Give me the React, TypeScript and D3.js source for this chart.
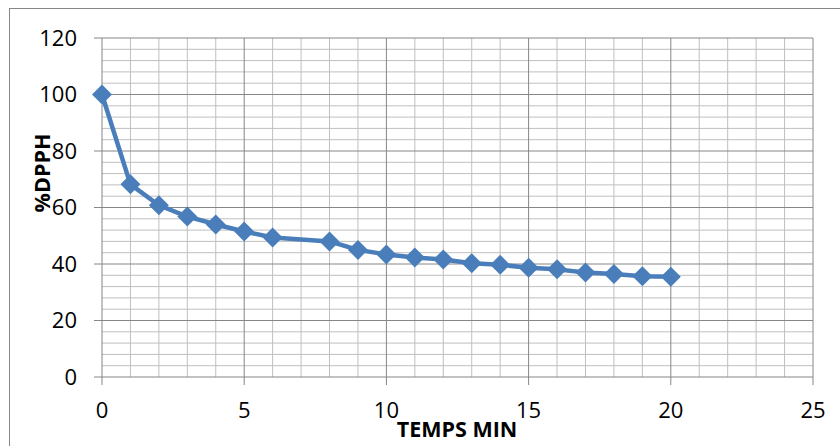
import React from 'react';
import * as d3 from 'd3';

// temps (min) and %DPPH
const times = [0, 1, 2, 3, 4, 5, 6, 8, 9, 10, 11, 12, 13, 14, 15, 16, 17, 18, 19, 20];
const dpph = [100, 68.2, 60.8, 56.8, 54, 51.5, 49.4, 48, 45, 43.4, 42.3, 41.6, 40.3, 39.7, 38.7, 38.1, 37, 36.5, 35.7, 35.5];
const xTicks = [0, 5, 10, 15, 20, 25];
const yTicks = [0, 20, 40, 60, 80, 100, 120];

const width = 840;
const height = 446;
const margin = { top: 38, right: 27, bottom: 69, left: 102 };

export default function App() {
  const x = d3.scaleLinear().domain([0, 25]).range([margin.left, width - margin.right]);
  const y = d3.scaleLinear().domain([0, 120]).range([height - margin.bottom, margin.top]);

  const minorX = d3.range(0, 26, 1).filter(v => v % 5 !== 0);
  const minorY = d3.range(0, 121, 4).filter(v => v % 20 !== 0);

  const pts = times.map((t, i) => [x(t), y(dpph[i])] as [number, number]);
  const line = d3.line();
  const diamond = 'M0,-10L10,0L0,10L-10,0Z';

  const font = "'Open Sans', 'Liberation Sans', sans-serif";

  return (
    <svg width={width} height={height} style={{ position: 'absolute', left: 0, top: 0, background: '#fff' }}>
      <rect x={9.5} y={8.5} width={1000} height={1000} fill="#fff" stroke="#868686" strokeWidth={1} />

      {/* minor grid */}
      <g stroke="#bfbfbf" strokeWidth={1}>
        {minorX.map(v => (
          <line key={'mx' + v} x1={x(v)} x2={x(v)} y1={y(0)} y2={y(120)} />
        ))}
        {minorY.map(v => (
          <line key={'my' + v} x1={x(0)} x2={x(25)} y1={y(v)} y2={y(v)} />
        ))}
      </g>

      {/* major grid + ticks */}
      <g stroke="#868686" strokeWidth={1}>
        {xTicks.map(v => (
          <line key={'Mx' + v} x1={x(v)} x2={x(v)} y1={y(120)} y2={y(0) + 8} />
        ))}
        {yTicks.map(v => (
          <line key={'My' + v} x1={x(0) - 8} x2={x(25)} y1={y(v)} y2={y(v)} />
        ))}
      </g>

      {/* tick labels */}
      <g fontFamily={font} fontSize={22} fill="#000">
        {yTicks.map(v => (
          <text key={'ty' + v} x={x(0) - 25} y={y(v)} dy="0.36em" textAnchor="end">{v}</text>
        ))}
        {xTicks.map(v => (
          <text key={'tx' + v} x={x(v)} y={y(0) + 41} textAnchor="middle">{v}</text>
        ))}
      </g>

      {/* series */}
      <path d={line(pts) ?? ''} fill="none" stroke="#4a7ebb" strokeWidth={4.5} strokeLinejoin="round" />
      {pts.map((p, i) => (
        <path key={'pt' + i} d={diamond} transform={`translate(${p[0]},${p[1]})`} fill="#4a7ebb" />
      ))}

      {/* axis titles */}
      <text x={457} y={437} textAnchor="middle" fontFamily={font} fontWeight="bold" fontSize={21.5}>TEMPS MIN</text>
      <text transform="translate(50,173) rotate(-90)" textAnchor="middle" fontFamily={font} fontWeight="bold" fontSize={21.5}>%DPPH</text>
    </svg>
  );
}
